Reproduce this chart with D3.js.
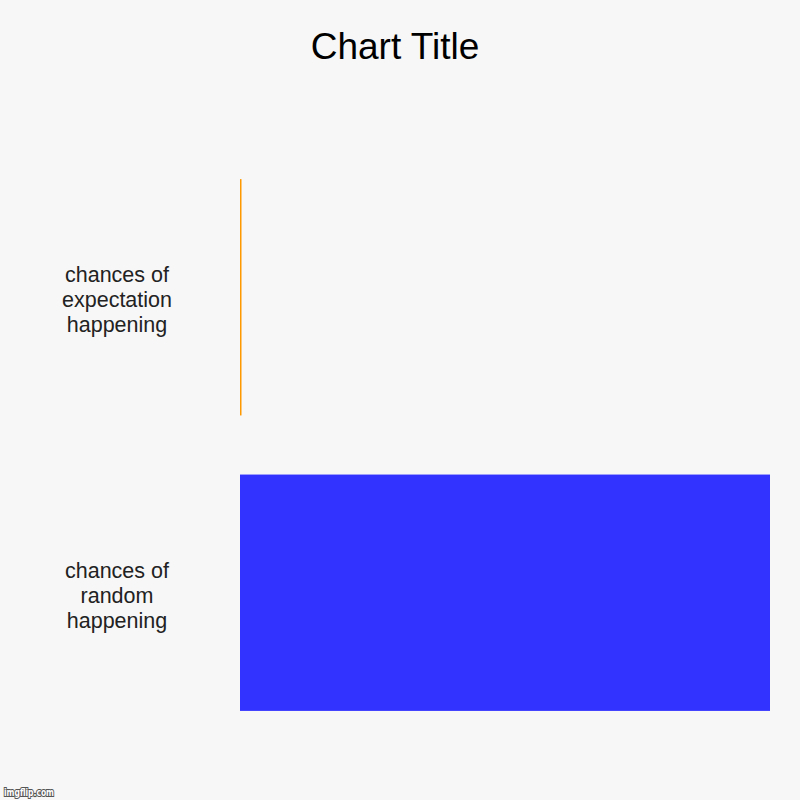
<!DOCTYPE html>
<html>
<head>
<meta charset="utf-8">
<script src="https://cdn.jsdelivr.net/npm/d3@7"></script>
<style>
  html, body { margin: 0; padding: 0; background: #f7f7f7; }
  svg { display: block; }
</style>
</head>
<body>
<script>
const categories = ["chances of expectation happening", "chances of random happening"];
const values = [0.25, 100];
const colors = ["#ff9900", "#3333ff"];
const title = "Chart Title";

const W = 800, H = 800;
const svg = d3.select("body").append("svg").attr("width", W).attr("height", H);
svg.append("rect").attr("width", W).attr("height", H).attr("fill", "#f7f7f7");

const x = d3.scaleLinear().domain([0, 100]).range([240, 770]);
const y = d3.scaleBand().domain(categories).range([120, 770]).paddingInner(0.2).paddingOuter(0.2);

svg.append("text")
  .attr("x", 395).attr("y", 59)
  .attr("text-anchor", "middle")
  .attr("font-family", "Liberation Sans, Arial, sans-serif")
  .attr("font-size", 37)
  .attr("fill", "#000")
  .text(title);

svg.selectAll("rect.bar")
  .data(categories)
  .join("rect")
  .attr("class", "bar")
  .attr("x", x(0))
  .attr("y", d => y(d))
  .attr("width", (d, i) => Math.max(1.5, x(values[i]) - x(0)))
  .attr("height", y.bandwidth())
  .attr("fill", (d, i) => colors[i]);

// wrapped labels
const measure = svg.append("text")
  .attr("font-family", "Liberation Sans, Arial, sans-serif")
  .attr("font-size", 21.5);
function wrap(str, maxW) {
  const words = str.split(" ");
  const lines = [];
  let cur = "";
  words.forEach(w => {
    const t = cur ? cur + " " + w : w;
    measure.text(t);
    if (measure.node().getComputedTextLength() > maxW && cur) {
      lines.push(cur);
      cur = w;
    } else cur = t;
  });
  if (cur) lines.push(cur);
  return lines;
}
const labelW = 135;
const lineH = 25;
categories.forEach(c => {
  const lines = wrap(c, labelW);
  const cy = y(c) + y.bandwidth() / 2;
  const t = svg.append("text")
    .attr("text-anchor", "middle")
    .attr("font-family", "Liberation Sans, Arial, sans-serif")
    .attr("font-size", 21.5)
    .attr("fill", "#222");
  lines.forEach((l, i) => {
    t.append("tspan")
      .attr("x", 117)
      .attr("y", cy + 10 + (i - (lines.length - 1) / 2) * lineH)
      .text(l);
  });
});
measure.remove();

svg.append("text")
  .attr("x", 4).attr("y", 796)
  .attr("font-family", "DejaVu Sans, sans-serif")
  .attr("font-weight", "bold")
  .attr("font-size", 10)
  .attr("textLength", 50)
  .attr("lengthAdjust", "spacingAndGlyphs")
  .attr("fill", "#fff")
  .attr("stroke", "#555")
  .attr("stroke-width", 2.2)
  .attr("paint-order", "stroke")
  .text("imgflip.com");
</script>
</body>
</html>
